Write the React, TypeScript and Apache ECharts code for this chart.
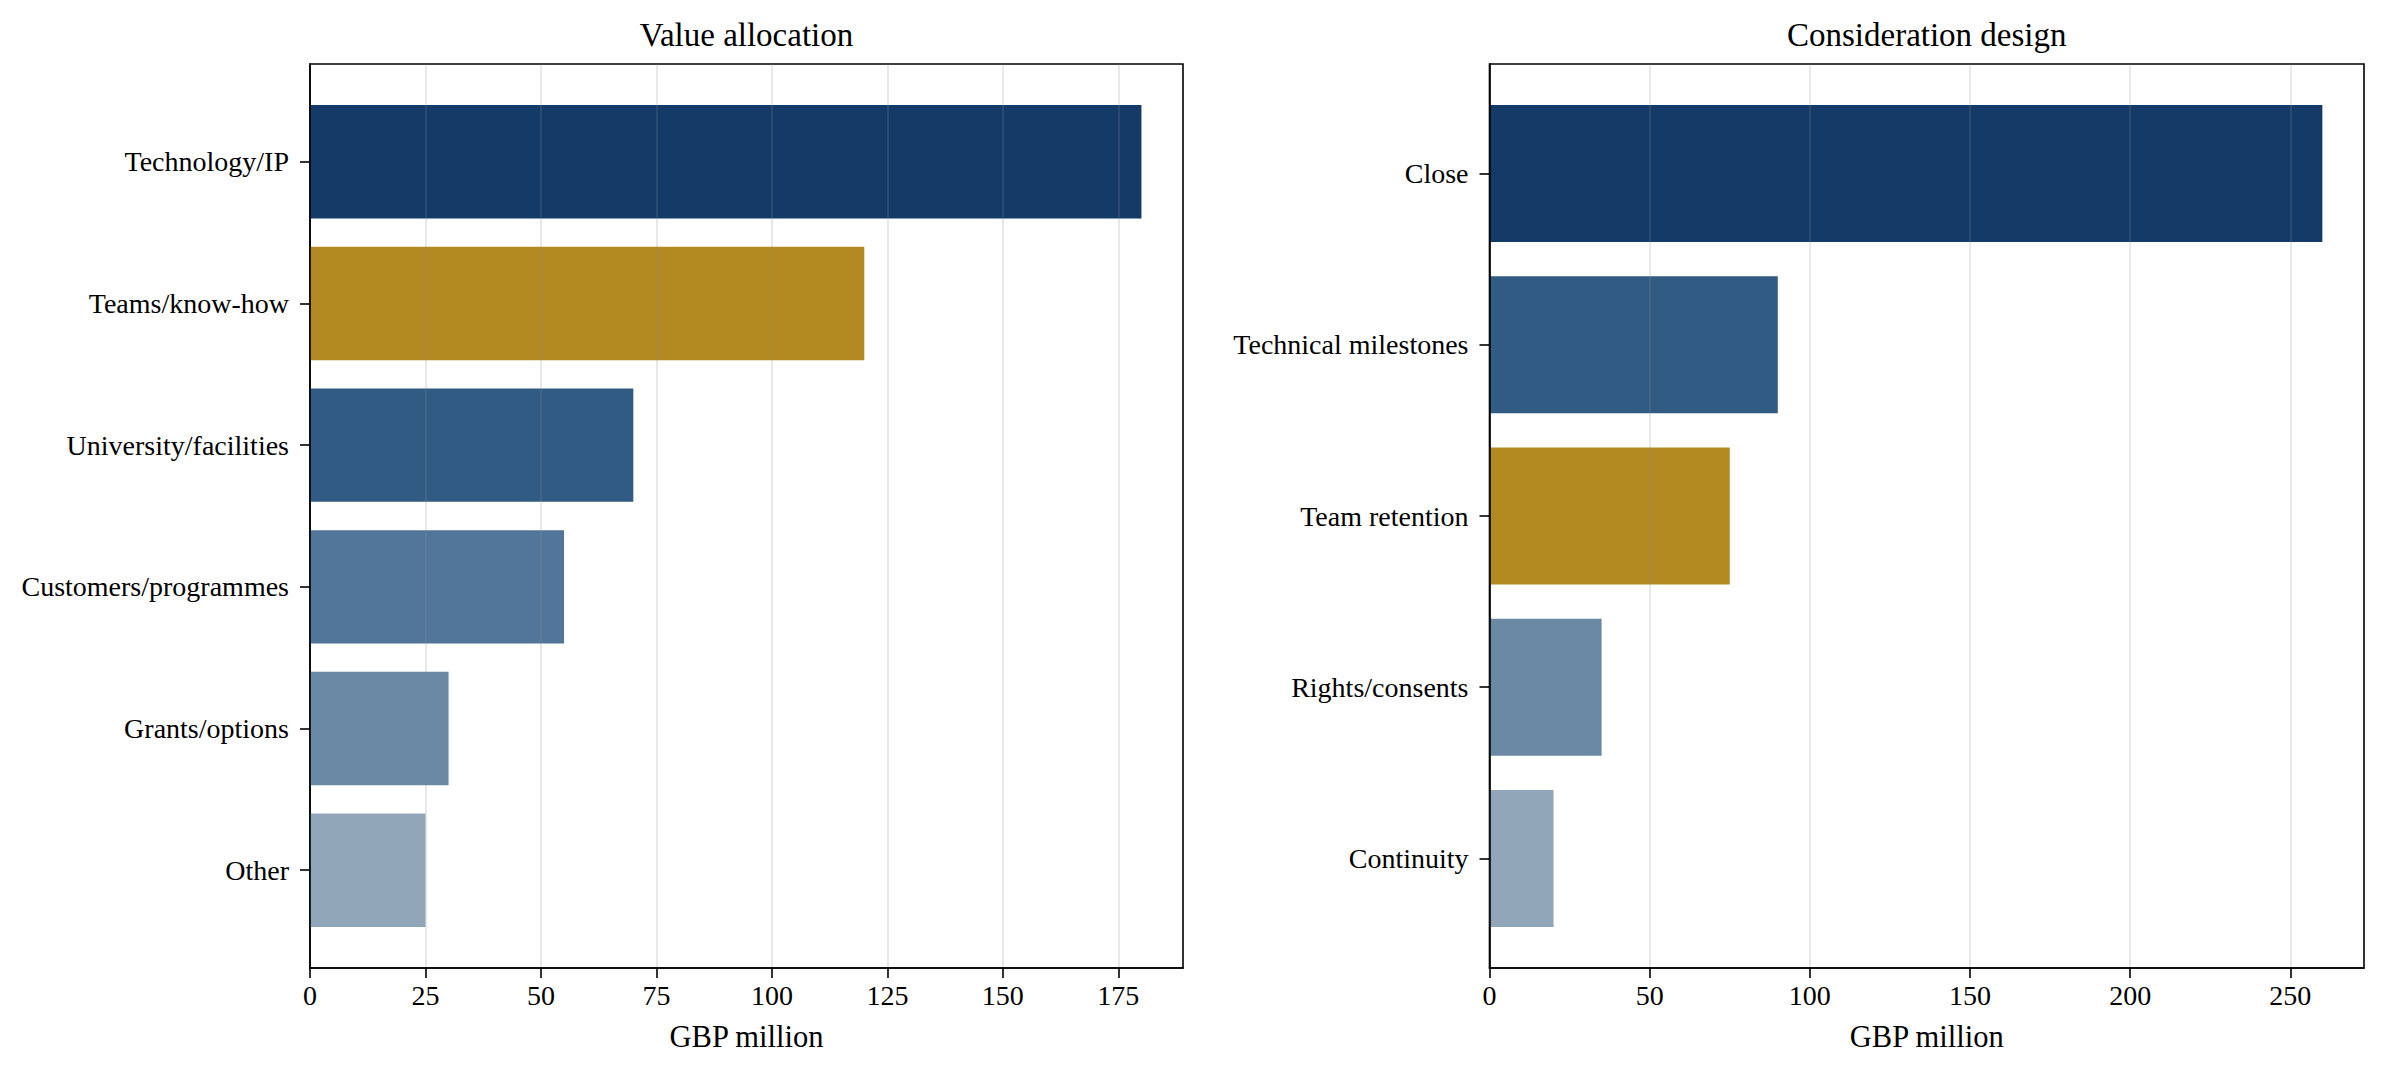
import React, { useEffect, useRef } from "react";
import * as echarts from "echarts";

const leftTitle = "Value allocation";
const rightTitle = "Consideration design";
const leftCategories = [
  "Technology/IP",
  "Teams/know-how",
  "University/facilities",
  "Customers/programmes",
  "Grants/options",
  "Other",
];
const leftValues = [180, 120, 70, 55, 30, 25];
const leftColors = ["#143a68", "#b38a22", "#315b83", "#52769a", "#6a89a5", "#92a6ba"];
const leftTicks = [0, 25, 50, 75, 100, 125, 150, 175];

const rightCategories = [
  "Close",
  "Technical milestones",
  "Team retention",
  "Rights/consents",
  "Continuity",
];
const rightValues = [260, 90, 75, 35, 20];
const rightColors = ["#143a68", "#315b83", "#b38a22", "#6a89a5", "#92a6ba"];
const rightTicks = [0, 50, 100, 150, 200, 250];

const axisName = "GBP million";
const FONT = "'Liberation Serif', 'Times New Roman', Times, serif";

function barRender(colors: string[]) {
  return (params: any, api: any) => {
    const v = api.value(0);
    const idx = api.value(1);
    const s = api.coord([0, idx]);
    const e = api.coord([v, idx]);
    const h = Math.abs(api.size([0, 1])[1]) * 0.8;
    return {
      type: "rect",
      shape: { x: s[0], y: s[1] - h / 2, width: e[0] - s[0], height: h },
      style: { fill: colors[params.dataIndex] },
    };
  };
}

function xAxisOpt(gridIndex: number, max: number, interval: number, ticks: number[]) {
  return {
    type: "value",
    gridIndex,
    position: "bottom",
    min: 0,
    max,
    interval,
    z: 3,
    name: axisName,
    nameLocation: "middle",
    nameGap: 53,
    nameTextStyle: { fontSize: 30.5, fontFamily: FONT, color: "#000" },
    axisLine: { show: true, onZero: false, lineStyle: { color: "#000", width: 1.6 } },
    axisTick: {
      show: true,
      inside: false,
      length: 10,
      customValues: ticks,
      lineStyle: { color: "#000", width: 1.6 },
    },
    axisLabel: {
      show: true,
      customValues: ticks,
      margin: 13,
      fontSize: 28,
      fontFamily: FONT,
      color: "#000",
    },
    splitLine: {
      show: true,
      lineStyle: { color: "rgba(140,140,140,0.2)", width: 2 },
    },
  };
}

function yAxisOpt(gridIndex: number, cats: string[]) {
  const n = cats.length;
  const margin = (n - 0.2) * 0.05;
  const idx = cats.map((_, i) => i);
  return {
    type: "value",
    gridIndex,
    position: "left",
    inverse: true,
    min: -0.4 - margin,
    max: n - 1 + 0.4 + margin,
    z: 4,
    splitLine: { show: false },
    axisLine: { show: true, onZero: false, lineStyle: { color: "#000", width: 1.6 } },
    axisTick: {
      show: true,
      inside: false,
      length: 10,
      customValues: idx,
      lineStyle: { color: "#000", width: 1.6 },
    },
    axisLabel: {
      show: true,
      customValues: idx,
      margin: 21,
      fontSize: 28,
      fontFamily: FONT,
      color: "#000",
      formatter: (v: number) => cats[Math.round(v)] ?? "",
    },
  };
}

export default function App() {
  const ref = useRef<HTMLDivElement>(null);
  useEffect(() => {
    if (!ref.current) return;
    const chart = echarts.init(ref.current, null, { renderer: "svg" });
    chart.setOption({
      animation: false,
      backgroundColor: "#fff",
      grid: [
        {
          left: 310,
          top: 64,
          width: 873,
          height: 904,
          show: true,
          borderColor: "#000",
          borderWidth: 1.6,
          backgroundColor: "transparent",
        },
        {
          left: 1489.5,
          top: 64,
          width: 874.5,
          height: 904,
          show: true,
          borderColor: "#000",
          borderWidth: 1.6,
          backgroundColor: "transparent",
        },
      ],
      xAxis: [xAxisOpt(0, 189, 25, leftTicks), xAxisOpt(1, 273, 50, rightTicks)],
      yAxis: [yAxisOpt(0, leftCategories), yAxisOpt(1, rightCategories)],
      graphic: [
        {
          type: "text",
          x: 746.5,
          y: 35,
          style: {
            text: leftTitle,
            align: "center",
            verticalAlign: "middle",
            fontSize: 33,
            fontFamily: FONT,
            fill: "#000",
          },
        },
        {
          type: "text",
          x: 1926.75,
          y: 35,
          style: {
            text: rightTitle,
            align: "center",
            verticalAlign: "middle",
            fontSize: 33,
            fontFamily: FONT,
            fill: "#000",
          },
        },
      ],
      series: [
        {
          type: "custom",
          xAxisIndex: 0,
          yAxisIndex: 0,
          encode: { x: 0, y: 1 },
          renderItem: barRender(leftColors),
          data: leftValues.map((v, i) => [v, i]),
        },
        {
          type: "custom",
          xAxisIndex: 1,
          yAxisIndex: 1,
          encode: { x: 0, y: 1 },
          renderItem: barRender(rightColors),
          data: rightValues.map((v, i) => [v, i]),
        },
      ],
    });
    return () => chart.dispose();
  }, []);
  return (
    <div
      ref={ref}
      style={{ position: "absolute", left: 0, top: 0, width: 2385, height: 1077 }}
    />
  );
}
